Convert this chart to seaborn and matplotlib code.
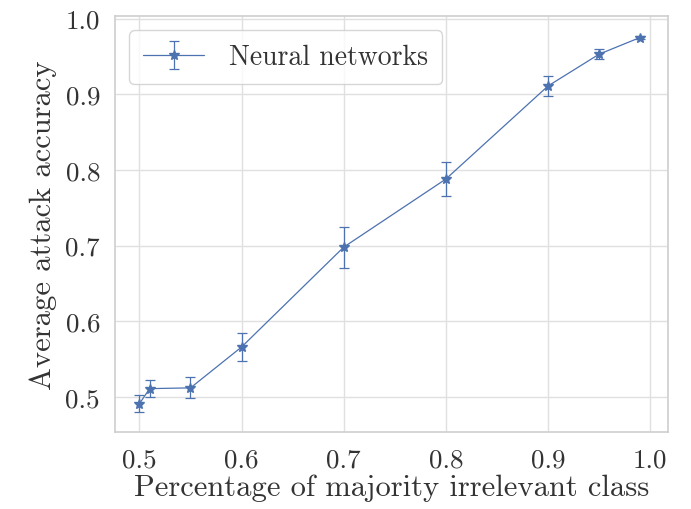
import matplotlib
matplotlib.use("Agg")
import matplotlib.pyplot as plt
import seaborn as sns
import numpy as np

x_vals = [0.50, 0.51, 0.55, 0.60, 0.70, 0.80, 0.90, 0.95, 0.99]
y_vals = [0.491, 0.511, 0.512, 0.566, 0.698, 0.788, 0.911, 0.953, 0.975]
y_err = [0.011, 0.011, 0.014, 0.019, 0.027, 0.023, 0.013, 0.007, 0.002]
series_label = "Neural networks"
x_ticks = [0.5, 0.6, 0.7, 0.8, 0.9, 1.0]
y_ticks = [0.5, 0.6, 0.7, 0.8, 0.9, 1.0]

sns.set_theme(style="whitegrid")
plt.rcParams['font.family'] = ['cmr10', 'DejaVu Serif']
plt.rcParams['axes.formatter.use_mathtext'] = True
plt.rcParams['mathtext.fontset'] = 'cm'

fig = plt.figure(figsize=(6.91, 5.10), dpi=100)
ax = fig.add_axes([0.167, 0.151, 0.800, 0.815])
color = sns.color_palette("deep")[0]
ax.errorbar(x_vals, y_vals, yerr=y_err, color=color, marker='*', markersize=7,
            linewidth=0.9, capsize=3.5, elinewidth=0.9, capthick=0.9, label=series_label)

ax.set_xlim(0.4765, 1.0176)
ax.set_ylim(0.4537, 1.003)
ax.set_xticks(x_ticks)
ax.set_yticks(y_ticks)
ax.set_xticklabels([f"{v:.1f}" for v in x_ticks])
ax.set_yticklabels([f"{v:.1f}" for v in y_ticks])
ax.tick_params(labelsize=19.5, colors='#333333', pad=5)
ax.set_xlabel("Percentage of majority irrelevant class", fontsize=22, color='#333333', labelpad=2)
ax.set_ylabel("Average attack accuracy", fontsize=22, color='#333333', labelpad=6)
for s in ax.spines.values():
    s.set_color('#d0d0d0')
ax.grid(color='#e0e0e0')
leg = ax.legend(loc='upper left', fontsize=20, frameon=True, handlelength=2.2,
                handletextpad=0.9, borderpad=0.5)
for t in leg.get_texts():
    t.set_color('#333333')

fig.savefig("out.png", dpi=100)
